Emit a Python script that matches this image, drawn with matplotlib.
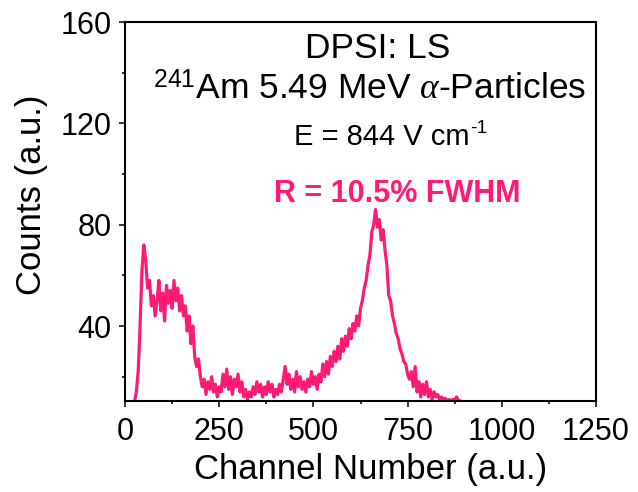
import numpy as np
import matplotlib
matplotlib.use('Agg')
import matplotlib.pyplot as plt
from matplotlib.ticker import MultipleLocator

plt.rcParams['font.family'] = ['Liberation Sans', 'DejaVu Sans']
plt.rcParams['mathtext.fontset'] = 'custom'
plt.rcParams['mathtext.rm'] = 'Liberation Sans'
plt.rcParams['mathtext.it'] = 'Liberation Serif:italic'

# spectrum (channel, counts)
channel = np.arange(25, 905, 5)
counts = [10, 14, 22, 40, 62, 72, 66, 55, 58, 48,
          52, 44, 50, 58, 46, 53, 42, 56, 49, 54,
          47, 58, 50, 55, 46, 52, 44, 48, 38, 44,
          33, 40, 28, 24, 27, 20, 16, 19, 13, 18,
          15, 20, 14, 17, 12, 16, 14, 21, 16, 23,
          15, 20, 13, 19, 16, 21, 14, 18, 12, 15,
          11, 14, 12, 16, 13, 18, 14, 17, 12, 16,
          13, 18, 14, 17, 12, 15, 13, 17, 14, 19,
          24, 17, 21, 15, 19, 14, 22, 16, 20, 15,
          18, 14, 19, 16, 22, 17, 20, 15, 21, 18,
          25, 20, 26, 21, 28, 24, 30, 26, 32, 27,
          35, 30, 36, 32, 39, 35, 41, 38, 44, 40,
          47, 50, 55, 58, 64, 68, 77, 80, 86, 79,
          82, 74, 78, 70, 64, 52, 50, 44, 41, 37,
          35, 31, 29, 26, 25, 21, 19, 22, 16, 24,
          14, 18, 12, 17, 13, 18, 12, 15, 11, 14,
          12, 13, 11, 12, 11, 11.5, 10.5, 11, 10.5, 11,
          10.8, 12, 10.5, 10.5, 9, 8]

pink = '#ff1a75'

fig = plt.figure(figsize=(6.38, 4.92), dpi=100)
ax = fig.add_axes([125/638, 1-401/492, 471/638, 379/492])
ax.plot(channel, counts, color=pink, lw=2.3)

ax.set_xlim(0, 1250)
ax.set_ylim(10.4, 160)
ax.xaxis.set_major_locator(MultipleLocator(250))
ax.xaxis.set_minor_locator(MultipleLocator(125))
ax.yaxis.set_major_locator(MultipleLocator(40))
ax.yaxis.set_minor_locator(MultipleLocator(20))
ax.tick_params(which='both', direction='out', top=False, right=False, width=1.1)
ax.tick_params(which='major', length=4.5, labelsize=22)
ax.tick_params(axis='x', which='major', pad=7)
ax.tick_params(axis='y', which='major', pad=5)
ax.tick_params(which='minor', length=2.5)
for s in ax.spines.values():
    s.set_linewidth(1.5)

ax.set_xlabel('Channel Number (a.u.)', fontsize=25, labelpad=4, x=0.522)
ax.set_ylabel('Counts (a.u.)', fontsize=25, labelpad=9, y=0.545)

ax.text(0.537, 0.905, 'DPSI: LS', transform=ax.transAxes, fontsize=25.5,
        ha='center', va='baseline')
ax.text(0.520, 0.794, r'$^{241}$Am 5.49 MeV $\alpha$-Particles',
        transform=ax.transAxes, fontsize=25.5, ha='center', va='baseline')
t = ax.text(0.545, 0.675, 'E = 844 V cm', transform=ax.transAxes,
            fontsize=21, ha='center', va='baseline')
ax.annotate('-1', xy=(1, 1), xycoords=t, xytext=(0.5, 2),
            textcoords='offset points', fontsize=14, ha='left', va='top')
ax.text(0.577, 0.525, 'R = 10.5% FWHM', transform=ax.transAxes, fontsize=22,
        fontweight='bold', color=pink, ha='center', va='baseline')

fig.savefig('out.png', dpi=100)
